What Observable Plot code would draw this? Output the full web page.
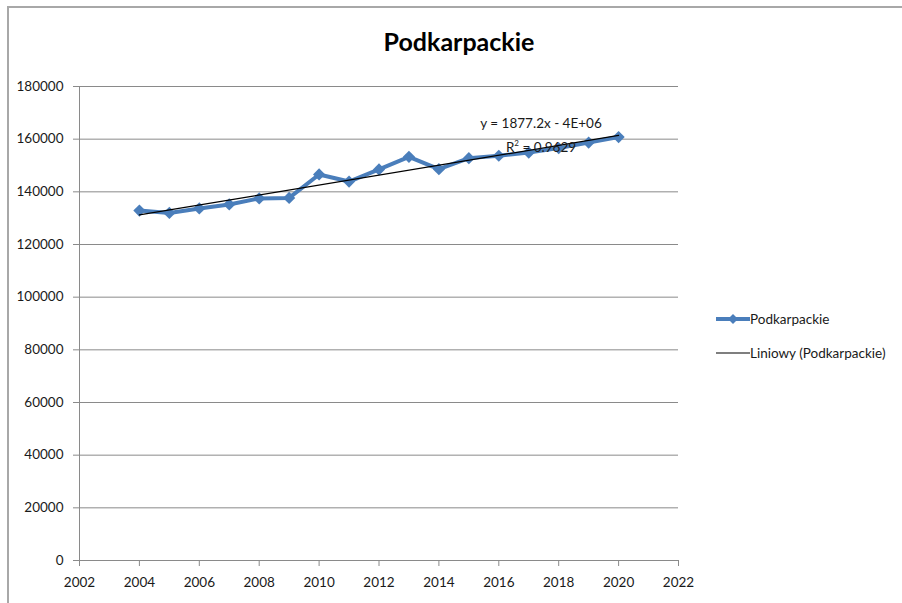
<!DOCTYPE html>
<html>
<head>
<meta charset="utf-8">
<script src="https://cdn.jsdelivr.net/npm/d3@7"></script>
<script src="https://cdn.jsdelivr.net/npm/@observablehq/plot@0.6"></script>
<style>
  html, body { margin: 0; padding: 0; background: #fff; }
  #wrap { position: relative; width: 902px; height: 603px; overflow: hidden; font-family: Lato, "Open Sans", sans-serif; }
  #frame { position: absolute; left: 7px; top: 6px; right: -10px; bottom: -10px; border-top: 2px solid #a8a8a8; border-left: 2px solid #a8a8a8; pointer-events: none; }
  #chart { position: absolute; left: 0; top: 0; }
  #title { position: absolute; left: 0; width: 918px; top: 26px; text-align: center; font-size: 25px; font-weight: bold; color: #000; }
  .legend { position: absolute; left: 716px; font-size: 13.5px; color: #1a1a1a; display: flex; align-items: center; }
  .eq { position: absolute; font-size: 13.5px; color: #1a1a1a; text-align: center; width: 200px; left: 441px; }
</style>
</head>
<body>
<div id="wrap">
  <div id="chart"></div>
  <div id="frame"></div>
  <div id="title">Podkarpackie</div>
  <div class="eq" style="top:115px">y = 1877.2x - 4E+06</div>
  <div class="eq" style="top:138px">R<sup style="font-size:8px">2</sup> = 0.9629</div>
  <div class="legend" style="top:311px">
    <svg width="34" height="12"><line x1="0" y1="6" x2="34" y2="6" stroke="#4A7EBB" stroke-width="4"/><path d="M17,1 L22,6 L17,11 L12,6 Z" fill="#4A7EBB"/></svg>
    <span>Podkarpackie</span>
  </div>
  <div class="legend" style="top:345px">
    <svg width="34" height="12"><line x1="0" y1="6" x2="34" y2="6" stroke="#000" stroke-width="1.2"/></svg>
    <span>Liniowy (Podkarpackie)</span>
  </div>
</div>
<script>
const years = [2004, 2005, 2006, 2007, 2008, 2009, 2010, 2011, 2012, 2013, 2014, 2015, 2016, 2017, 2018, 2019, 2020];
const values = [132900, 132000, 133700, 135200, 137500, 137700, 146600, 143900, 148500, 153300, 148600, 152800, 153700, 154900, 156600, 158700, 160800];
const xTicks = [2002, 2004, 2006, 2008, 2010, 2012, 2014, 2016, 2018, 2020, 2022];
const yTicks = [0, 20000, 40000, 60000, 80000, 100000, 120000, 140000, 160000, 180000];

const data = years.map((year, i) => ({year, value: values[i]}));
const gray = "#8a8a8a";

const chart = Plot.plot({
  width: 902,
  height: 603,
  marginLeft: 79,
  marginRight: 224,
  marginTop: 86,
  marginBottom: 43,
  style: {fontFamily: "Lato, 'Open Sans', sans-serif", fontSize: "13.5px", color: "#1a1a1a", background: "transparent"},
  x: {domain: [2002, 2022], label: null},
  y: {domain: [0, 180000], label: null},
  marks: [
    Plot.ruleY(yTicks, {stroke: gray, strokeWidth: 1}),
    Plot.ruleX([2002], {stroke: gray, strokeWidth: 1, y1: 0, y2: 180000}),
    Plot.axisY({ticks: yTicks, tickFormat: d => String(d), tickSize: 6, tickPadding: 10, stroke: gray, fill: "#1a1a1a", label: null}),
    Plot.axisX({ticks: xTicks, tickFormat: d => String(d), tickSize: 6, tickPadding: 11, stroke: gray, fill: "#1a1a1a", label: null}),
    Plot.line(data, {x: "year", y: "value", stroke: "#4A7EBB", strokeWidth: 4, strokeLinejoin: "round"}),
    Plot.dot(data, {x: "year", y: "value", symbol: "diamond2", r: 5.5, fill: "#4A7EBB", stroke: "none"}),
    Plot.linearRegressionY(data, {x: "year", y: "value", ci: 0, stroke: "#000", strokeWidth: 1.2})
  ]
});
document.getElementById("chart").appendChild(chart);
</script>
</body>
</html>
